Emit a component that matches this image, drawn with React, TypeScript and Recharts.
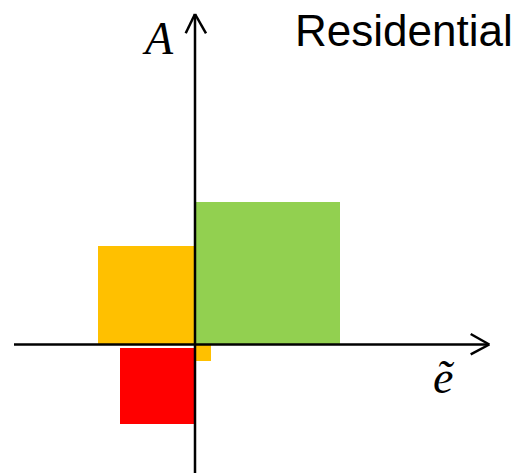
import React from "react";
import { ComposedChart, XAxis, YAxis, ReferenceArea, ReferenceLine, Customized } from "recharts";

// Rectangles: [x1, x2, y1, y2] in chart units
const rectNames = ["orange", "green", "red", "orangeSmall"];
const rectX1 = [-9.7, 0, -7.5, 0];
const rectX2 = [0, 14.5, 0, 1.6];
const rectY1 = [0, 0, -0.35, 0];
const rectY2 = [9.85, 14.25, -7.95, -1.65];
const rectColors = ["#FFC000", "#92D050", "#FF0000", "#FFC000"];

const xDomain = [-19.5, 32.9];
const yDomain = [-12.85, 34.45];

const title = "Residential";
const xLabel = "ẽ";
const yLabel = "A";

const W = 524;
const H = 473;

export default function App() {
  return (
    <div style={{ position: "absolute", left: 0, top: 0, width: W, height: H, background: "#fff" }}>
      <ComposedChart width={W} height={H} margin={{ top: 0, right: 0, bottom: 0, left: 0 }} data={[{ x: 0, y: 0 }]}>
        <XAxis type="number" dataKey="x" domain={xDomain} hide allowDataOverflow />
        <YAxis type="number" dataKey="y" domain={yDomain} hide allowDataOverflow />
        {rectNames.map((n, i) => (
          <ReferenceArea
            key={n}
            x1={rectX1[i]}
            x2={rectX2[i]}
            y1={rectY1[i]}
            y2={rectY2[i]}
            fill={rectColors[i]}
            fillOpacity={1}
            stroke="none"
            ifOverflow="visible"
          />
        ))}
        {/* horizontal axis */}
        <ReferenceLine segment={[{ x: -18.1, y: 0 }, { x: 29.43, y: 0 }]} stroke="#000" strokeWidth={2.5} ifOverflow="visible" />
        <ReferenceLine segment={[{ x: 27.57, y: 1.05 }, { x: 29.43, y: 0 }]} stroke="#000" strokeWidth={2.5} ifOverflow="visible" />
        <ReferenceLine segment={[{ x: 27.57, y: -0.98 }, { x: 29.43, y: 0 }]} stroke="#000" strokeWidth={2.5} ifOverflow="visible" />
        {/* vertical axis */}
        <ReferenceLine segment={[{ x: 0, y: -12.85 }, { x: 0, y: 33.05 }]} stroke="#000" strokeWidth={2.5} ifOverflow="visible" />
        <ReferenceLine segment={[{ x: -0.93, y: 31.12 }, { x: 0, y: 33.05 }]} stroke="#000" strokeWidth={2.5} ifOverflow="visible" />
        <ReferenceLine segment={[{ x: 1.1, y: 31.12 }, { x: 0, y: 33.05 }]} stroke="#000" strokeWidth={2.5} ifOverflow="visible" />
        <Customized
          component={() => (
            <g>
              <text x={295} y={46} fontFamily="Liberation Sans, Arial, sans-serif" fontSize={44} fill="#000">
                {title}
              </text>
              <text x={145} y={54} fontFamily="Liberation Serif, serif" fontStyle="italic" fontSize={46} fill="#000">
                {yLabel}
              </text>
              <text x={433} y={393} fontFamily="Liberation Serif, serif" fontStyle="italic" fontSize={46} fill="#000">
                {xLabel}
              </text>
            </g>
          )}
        />
      </ComposedChart>
    </div>
  );
}
